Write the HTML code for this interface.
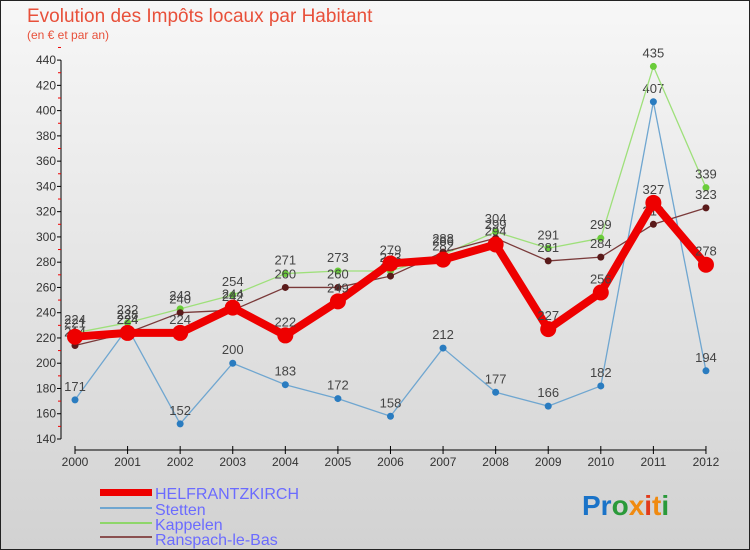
<!DOCTYPE html>
<html><head><meta charset="utf-8"><style>
body{margin:0;width:750px;height:550px;overflow:hidden;font-family:"Liberation Sans",sans-serif}
svg{display:block}
</style></head><body>
<svg id="c" width="750" height="550" xmlns="http://www.w3.org/2000/svg">
<defs><linearGradient id="bg" x1="0" y1="0" x2="0" y2="1"><stop offset="0" stop-color="#f7f7f7"/><stop offset="1" stop-color="#d2d2d2"/></linearGradient></defs>
<rect x="0.5" y="0.5" width="749" height="549" fill="url(#bg)" stroke="#222"/>
<text x="27" y="22" font-size="19" fill="#e8503a">Evolution des Impôts locaux par Habitant</text>
<text x="27" y="39" font-size="12" fill="#e8503a">(en € et par an)</text>
<g id="axes"></g><g id="series"></g>
<g font-size="16" fill="#6b6bff">
<rect x="100" y="489" width="52" height="7" fill="#e00"/>
<text x="155" y="499">HELFRANTZKIRCH</text>
<rect x="100" y="507" width="52" height="2" fill="#6fa6d0"/>
<text x="155" y="515">Stetten</text>
<rect x="100" y="522" width="52" height="2" fill="#8ed66a"/>
<text x="155" y="530">Kappelen</text>
<rect x="100" y="536" width="52" height="2" fill="#8a5050"/>
<text x="155" y="545">Ranspach-le-Bas</text>
</g>
<text x="582" y="515" font-size="28" font-weight="bold"><tspan fill="#1a73c8">Pr</tspan><tspan fill="#2a9a3a">o</tspan><tspan fill="#f08a10">x</tspan><tspan fill="#e23a1a">i</tspan><tspan fill="#f08a10">t</tspan><tspan fill="#2a9a3a">i</tspan></text>
</svg>
<script>
const years=["2000","2001","2002","2003","2004","2005","2006","2007","2008","2009","2010","2011","2012"];
const helf=[221,224,224,244,222,249,279,282,294,227,256,327,278];
const stetten=[171,228,152,200,183,172,158,212,177,166,182,407,194];
const kappelen=[224,232,243,254,271,273,273,286,304,291,299,435,339];
const ranspach=[214,224,240,242,260,260,269,288,299,281,284,310,323];
const yTicks=[140,160,180,200,220,240,260,280,300,320,340,360,380,400,420,440];
const NS="http://www.w3.org/2000/svg";
const X=i=>75+i*52.58, Y=v=>439-(v-140)*1.263;
function mk(t,a,p){const e=document.createElementNS(NS,t);for(const k in a)e.setAttribute(k,a[k]);p.appendChild(e);return e;}
const ax=document.getElementById('axes'), sg=document.getElementById('series');
let l=mk('line',{x1:61,y1:Y(440),x2:61,y2:Y(140),stroke:'#000'},ax);


yTicks.forEach(v=>{mk('line',{x1:57,x2:61,y1:Y(v),y2:Y(v),stroke:'#000'},ax);
 mk('line',{x1:58,x2:61,y1:Y(v+10),y2:Y(v+10),stroke:'#e00'},ax);
 const t=mk('text',{x:56,y:Y(v)+4,'text-anchor':'end','font-size':12,fill:'#333'},ax);t.textContent=v;
 
 });
l=mk('line',{x1:X(0),y1:450,x2:X(12),y2:450,stroke:'#000'},ax);


years.forEach((y,i)=>{mk('line',{x1:X(i),x2:X(i),y1:446,y2:454,stroke:'#000'},ax);
 const t=mk('text',{x:X(i),y:466,'text-anchor':'middle','font-size':12,fill:'#333'},ax);t.textContent=y;
 
 });
function series(d,name,col,w,r,dot){
 const g=mk('g',{},sg);
 
 
 mk('polyline',{points:d.map((v,i)=>X(i)+','+Y(v)).join(' '),fill:'none',stroke:col,'stroke-width':w,'stroke-linejoin':'round'},g);
 d.forEach((v,i)=>{const c=mk('circle',{cx:X(i),cy:Y(v),r:r,fill:dot},g);
  
  
  const t=mk('text',{x:X(i),y:Y(v)-9,'text-anchor':'middle','font-size':13,fill:'#444'},g);t.textContent=v;
  
  });
}
series(stetten,'stetten','#6fa6d0',1.3,3.5,'#2a7cc0');
series(kappelen,'kappelen','#9ee07a',1.3,3.5,'#6acc3a');
series(ranspach,'ranspach','#7a3a3a',1.3,3.5,'#5a1a1a');
series(helf,'helfrantzkirch','#ee0000',8,8,'#ee0000');
</script>
</body></html>
